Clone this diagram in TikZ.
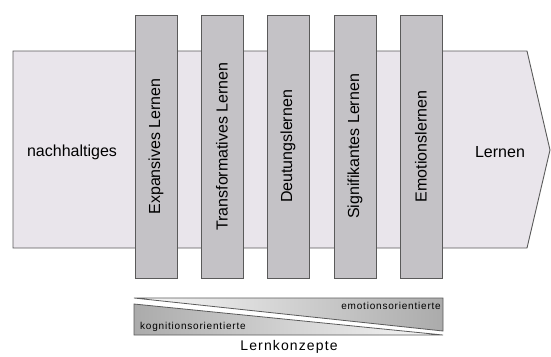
\documentclass[tikz,border=0pt]{standalone}
\usepackage{fontspec}
\setmainfont{Liberation Sans}
\newfontfamily\spacedfont[LetterSpace=8]{Liberation Sans}
\definecolor{arrowfill}{HTML}{E9E5EB}
\definecolor{barfill}{HTML}{C4C2C6}
\definecolor{edgegray}{HTML}{5A5A5A}
\begin{document}
\begin{tikzpicture}[x=1pt,y=-1pt]
		\tikzset{bar/.style = {draw=edgegray, line width=0.9pt, fill=barfill, rotate=90,
				minimum width=263pt, minimum height=42pt, inner sep=0pt,
				font=\fontsize{16}{18}\selectfont}}
		\tikzset{label/.style = {font=\fontsize{16}{18}\selectfont}}
		\tikzset{small/.style = {font=\spacedfont\fontsize{10}{12}\selectfont, inner sep=0pt}}
		
		\useasboundingbox (0,0) rectangle (551,356);
		
		% big arrow
		\draw[draw=edgegray, line width=0.9pt, fill=arrowfill]
			(13,51) -- (527,51) -- (550,150) -- (527,248) -- (13,248) -- cycle;
		\node[label] (start) at (  72,  152) {nachhaltiges};
		\node[label] (end)   at ( 500,  152) {Lernen};
		
		% bars
		\node[bar] (b1) at ( 156, 146.5) {Expansives Lernen};
		\node[bar] (b2) at ( 222, 146.5) {Transformatives Lernen};
		\node[bar] (b3) at ( 288, 146.5) {Deutungslernen};
		\node[bar] (b4) at ( 355, 146.5) {Signifikantes Lernen};
		\node[bar] (b5) at ( 421, 146.5) {Emotionslernen};
		
		% Lernkonzepte
		\shade[left color=white!95!gray, right color=black!33, draw=edgegray, line width=0.8pt]
			(134,298) -- (443,298) -- (443,331) -- cycle;
		\shade[left color=black!33, right color=white!95!gray, draw=edgegray, line width=0.8pt]
			(134,304) -- (443,335) -- (134,335) -- cycle;
		\node[small, anchor=east] (emo) at (441,306) {emotionsorientierte};
		\node[small, anchor=west] (kog) at (140,327) {kognitionsorientierte};
		\node[font=\spacedfont\fontsize{14}{16}\selectfont] (lk) at (289,347) {Lernkonzepte};
\end{tikzpicture}
\end{document}
